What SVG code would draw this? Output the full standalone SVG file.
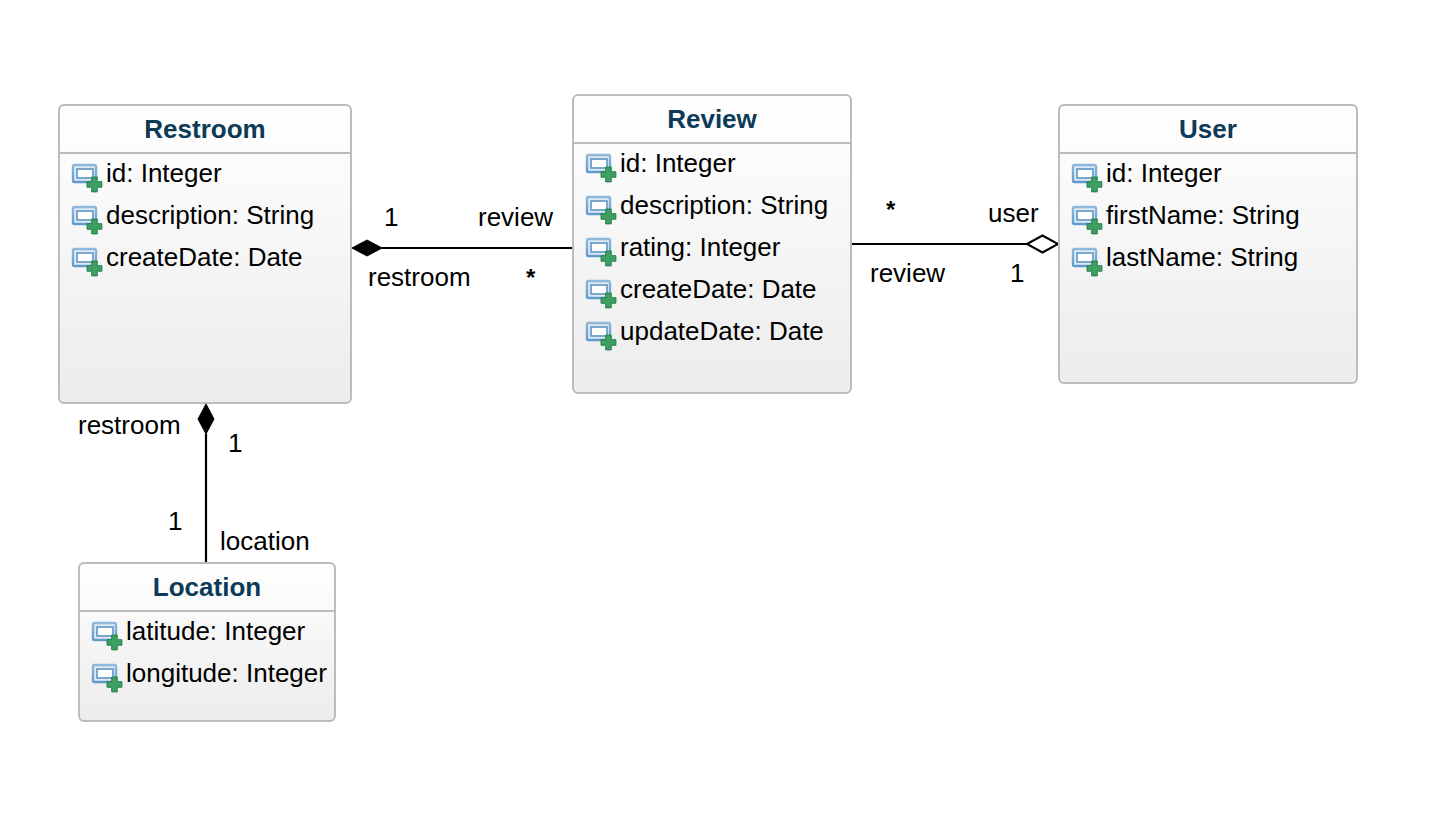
<svg xmlns="http://www.w3.org/2000/svg" xmlns:xlink="http://www.w3.org/1999/xlink" width="1436" height="816" viewBox="0 0 1436 816">
<style>
text{font-family:"Liberation Sans",Arial,sans-serif;font-size:26px;fill:#000}
.t{font-weight:bold;fill:#0d3a58;text-anchor:middle;font-size:26px}
.m{font-weight:bold;font-size:24px}
.b{fill:url(#g);stroke:#bcbcbc;stroke-width:2}
.s{stroke:#bcbcbc;stroke-width:2;fill:none}
.c{stroke:#000;stroke-width:2.2;fill:none}
</style>
<defs>
<linearGradient id="g" x1="0" y1="0" x2="0" y2="1"><stop offset="0" stop-color="#fff"/><stop offset="1" stop-color="#ececec"/></linearGradient>
<linearGradient id="ib" x1="0" y1="0" x2="0" y2="1"><stop offset="0" stop-color="#8fb8dc"/><stop offset="1" stop-color="#5f9bcf"/></linearGradient>
<g id="i">
<rect x="1" y="1" width="23" height="17" rx="1.5" fill="#dfeaf5" stroke="url(#ib)" stroke-width="2.4"/>
<rect x="5" y="5" width="16" height="9" fill="#fff" stroke="#6f9fc9" stroke-width="1.8"/>
<path d="M19 14h6v5h5v6h-5v5h-6v-5h-5v-6h5z" transform="translate(2,0) scale(.93)" fill="#3f9e63" stroke="#1f8048" stroke-width="1"/>
</g>
</defs>
<rect width="1436" height="816" fill="#fff"/>
<g id="connectors">
<path class="c" d="M382 248H573"/>
<path d="M352 248L367 240L382 248L367 256Z" fill="#000" stroke="#000"/>
<path class="c" d="M852 244H1027"/>
<path d="M1027 244L1042.500 235.500L1058 244L1042.500 252.500Z" fill="#fff" stroke="#000" stroke-width="2"/>
<path class="c" d="M206 434V563"/>
<path d="M206 404L214 419L206 434L198 419Z" fill="#000" stroke="#000"/>
<text x="384" y="226">1</text>
<text x="478" y="226">review</text>
<text x="368" y="286">restroom</text>
<text class="m" x="526" y="286">*</text>
<text class="m" x="886" y="218">*</text>
<text x="988" y="222">user</text>
<text x="870" y="282">review</text>
<text x="1010" y="282">1</text>
<text x="78" y="434">restroom</text>
<text x="228" y="452">1</text>
<text x="168" y="530">1</text>
<text x="220" y="550">location</text>
</g>
<g id="Restroom">
<rect class="b" x="59" y="105" width="292" height="298" rx="5"/>
<path class="s" d="M59 153H351"/>
<text class="t" x="205" y="138">Restroom</text>
<use xlink:href="#i" href="#i" x="72" y="164"/><text x="106" y="182">id: Integer</text>
<use xlink:href="#i" href="#i" x="72" y="206"/><text x="106" y="224">description: String</text>
<use xlink:href="#i" href="#i" x="72" y="248"/><text x="106" y="266">createDate: Date</text>
</g>
<g id="Review">
<rect class="b" x="573" y="95" width="278" height="298" rx="5"/>
<path class="s" d="M573 143H851"/>
<text class="t" x="712" y="128">Review</text>
<use xlink:href="#i" href="#i" x="586" y="154"/><text x="620" y="172">id: Integer</text>
<use xlink:href="#i" href="#i" x="586" y="196"/><text x="620" y="214">description: String</text>
<use xlink:href="#i" href="#i" x="586" y="238"/><text x="620" y="256">rating: Integer</text>
<use xlink:href="#i" href="#i" x="586" y="280"/><text x="620" y="298">createDate: Date</text>
<use xlink:href="#i" href="#i" x="586" y="322"/><text x="620" y="340">updateDate: Date</text>
</g>
<g id="User">
<rect class="b" x="1059" y="105" width="298" height="278" rx="5"/>
<path class="s" d="M1059 153H1357"/>
<text class="t" x="1208" y="138">User</text>
<use xlink:href="#i" href="#i" x="1072" y="164"/><text x="1106" y="182">id: Integer</text>
<use xlink:href="#i" href="#i" x="1072" y="206"/><text x="1106" y="224">firstName: String</text>
<use xlink:href="#i" href="#i" x="1072" y="248"/><text x="1106" y="266">lastName: String</text>
</g>
<g id="Location">
<rect class="b" x="79" y="563" width="256" height="158" rx="5"/>
<path class="s" d="M79 611H335"/>
<text class="t" x="207" y="596">Location</text>
<use xlink:href="#i" href="#i" x="92" y="622"/><text x="126" y="640">latitude: Integer</text>
<use xlink:href="#i" href="#i" x="92" y="664"/><text x="126" y="682">longitude: Integer</text>
</g>
</svg>
